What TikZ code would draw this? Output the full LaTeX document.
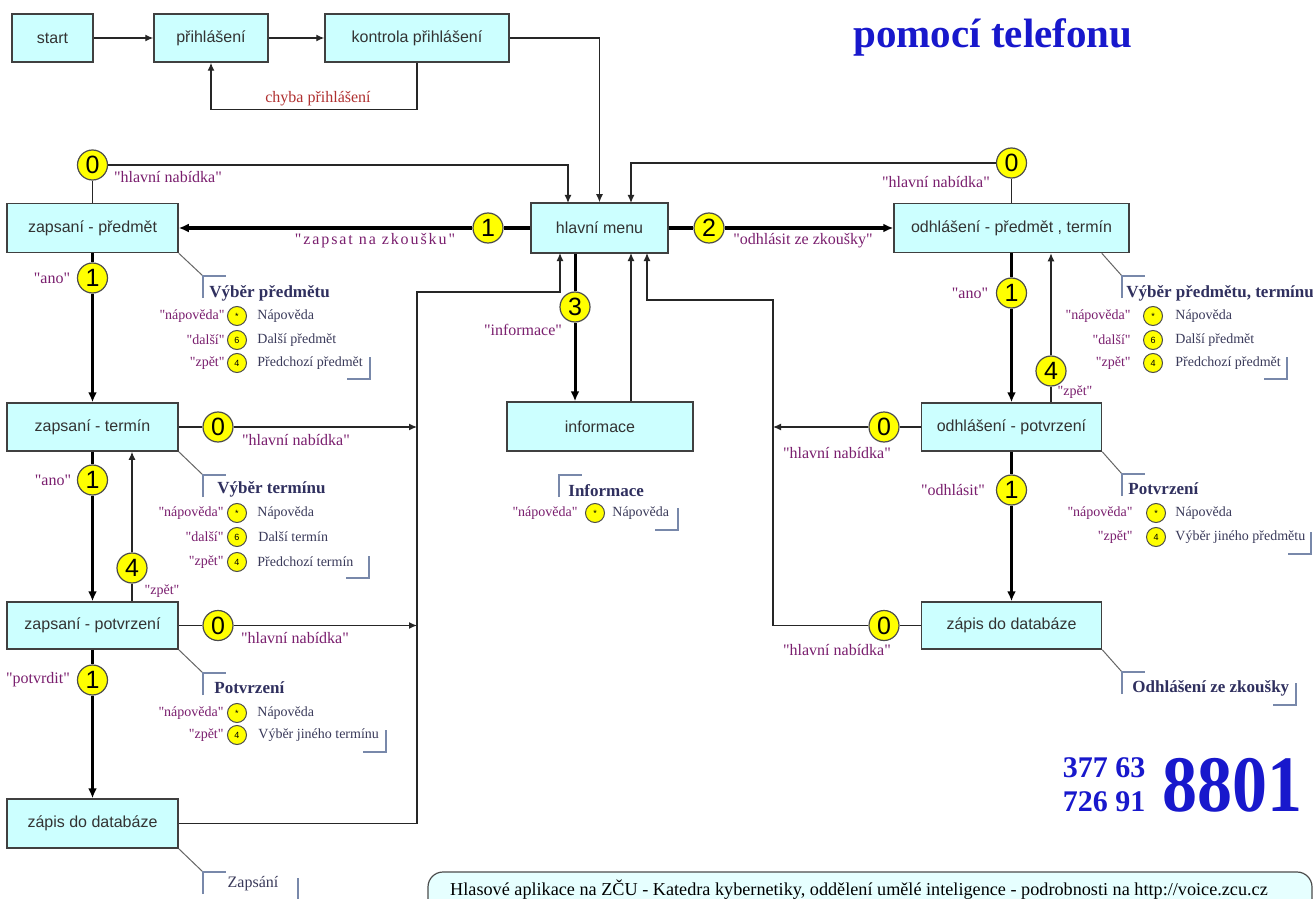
\documentclass[tikz,border=0pt]{standalone}
\usepackage{fontspec}
\setmainfont{Liberation Serif}
\setsansfont{Liberation Sans}
\newfontfamily\qfont{Liberation Serif}
\usetikzlibrary{arrows.meta,calc}
\definecolor{boxfill}{HTML}{CCFFFF}
\definecolor{ylw}{HTML}{FFFF00}
\definecolor{qpurple}{HTML}{7A1E6E}
\definecolor{navy}{HTML}{30305F}
\definecolor{rowc}{HTML}{3A3A5A}
\definecolor{errred}{HTML}{B03030}
\definecolor{ttlblue}{HTML}{1818CC}
\definecolor{brkc}{HTML}{7888AA}
\definecolor{footfill}{HTML}{E6FFFF}
\newcommand{\fsz}[1]{\fontsize{#1pt}{#1pt}\selectfont}
\newcommand{\crow}[8]{%
  \node[rowq,anchor=east] (#1q) at (#2,#5) {"#6"};
  \node[smallc] (#1c) at (#3,#5) {#7};
  \node[rowt,anchor=west] (#1t) at (#4,#5) {#8};}
\tikzset{
  box/.style={draw=black!75, line width=0.75pt, fill=boxfill, inner sep=0pt, font=\sffamily\fsz{8}, text=black!80},
  bx/.style 2 args={box, minimum width=#1*0.5pt, minimum height=#2*0.5pt},
  bigc/.style={circle, draw=black!70, line width=0.6pt, fill=ylw, minimum size=15pt, inner sep=0pt, font=\sffamily\fsz{12.5}},
  smallc/.style={circle, draw=black!70, line width=0.5pt, fill=ylw, minimum size=9.5pt, inner sep=0pt, font=\sffamily\fsz{4.5}},
  ql/.style={font=\qfont\fsz{8}, text=qpurple, inner sep=0pt},
  rowq/.style={font=\qfont\fsz{7}, text=qpurple, inner sep=0pt},
  rowt/.style={font=\fsz{7}, text=rowc, inner sep=0pt},
  ctitle/.style={font=\bfseries\fsz{8.5}, text=navy, inner sep=0pt, anchor=west},
  con/.style={draw=black!85, line width=0.65pt},
  thk/.style={draw=black, line width=1.5pt},
  arr/.style={-{Latex[length=4pt,width=3.5pt]}},
  tarr/.style={-{Latex[length=5pt,width=4.5pt]}},
  brk/.style={draw=brkc, line width=0.6pt},
  diag/.style={draw=black!60, line width=0.5pt},
}
\begin{document}
\begin{tikzpicture}[x=0.5pt,y=-0.5pt]
\fill[white] (0,0) rectangle (1313,899);
\useasboundingbox (0,0) rectangle (1313,899);
\clip (0,0) rectangle (1313,899);

% boxes
\node[bx={81}{48}] (start) at (52.5,38) {start};
\node[bx={114}{48}] (login) at (211,38) {přihlášení};
\node[bx={184}{48}] (check) at (417,38) {kontrola přihlášení};
\node[bx={137}{50}] (menu) at (599.5,228) {hlavní menu};
\node[bx={171}{49}] (zpred) at (92.5,228) {zapsaní - předmět};
\node[bx={171}{48}] (zterm) at (92.5,427) {zapsaní - termín};
\node[bx={171}{47}] (zpotv) at (92.5,625.5) {zapsaní - potvrzení};
\node[bx={171}{49}] (zdb) at (92.5,823.5) {zápis do databáze};
\node[bx={186}{49}] (info) at (600,426.5) {informace};
\node[bx={235}{49}] (opred) at (1011.5,228) {odhlášení - předmět , termín};
\node[bx={180}{48}] (opotv) at (1011.5,427) {odhlášení - potvrzení};
\node[bx={180}{47}] (odb) at (1011.5,625.5) {zápis do databáze};

% circles
\node[bigc] (c0a) at (92.5,165) {0};
\node[bigc] (c0b) at (1011.5,163) {0};
\node[bigc] (c1z) at (488,228) {1};
\node[bigc] (c2) at (709,228) {2};
\node[bigc] (c1a) at (92.5,278) {1};
\node[bigc] (c3) at (575,307) {3};
\node[bigc] (c1o) at (1011.5,293) {1};
\node[bigc] (c4o) at (1051,371) {4};
\node[bigc] (c0t) at (218,427) {0};
\node[bigc] (c0p) at (884,427) {0};
\node[bigc] (c1b) at (92.5,480) {1};
\node[bigc] (c1d) at (1011.5,490) {1};
\node[bigc] (c4z) at (132,568) {4};
\node[bigc] (c0u) at (218,625.5) {0};
\node[bigc] (c0z) at (884,625.5) {0};
\node[bigc] (c1c) at (92.5,680) {1};

% coordinates
\coordinate (mInL) at (568,203);
\coordinate (mInR) at (631,203);
\coordinate (mOutL) at (560,253);
\coordinate (mOutI) at (631,253);
\coordinate (mOutR) at (647,253);
\coordinate (vL) at (417,292);
\coordinate (vR) at (773,300);

% connectors
\draw[con,arr] (start) -- (login);
\draw[con,arr] (login) -- (check);
\draw[con,arr] (check.south) -- ++(0,47) -| (login.south);
\draw[con,arr] (check.east) -| (menu.north);
\draw[con] (c0a) -- (zpred);
\draw[con,arr] (c0a.east) -| (mInL);
\draw[con] (c0b) -- (opred);
\draw[con,arr] (c0b.west) -| (mInR);
\draw[thk] (menu.west) -- (c1z.east);
\draw[thk,tarr] (c1z.west) -- (zpred.east);
\draw[thk] (menu.east) -- (c2.west);
\draw[thk,tarr] (c2.east) -- (opred.west);
\draw[thk] (zpred) -- (c1a);
\draw[thk,tarr] (c1a) -- (zterm);
\draw[thk] (zterm) -- (c1b);
\draw[thk,tarr] (c1b) -- (zpotv);
\draw[thk] (zpotv) -- (c1c);
\draw[thk,tarr] (c1c) -- (zdb);
\draw[con,arr] (c4z) -- (c4z |- zterm.south);
\draw[con] (c4z) -- (c4z |- zpotv.north);
\draw[con] (zterm) -- (c0t);
\draw[con,arr] (c0t) -- (c0t -| vL);
\draw[con] (zpotv) -- (c0u);
\draw[con,arr] (c0u) -- (c0u -| vL);
\draw[con,arr] (zdb.east) -| (vL) -| (mOutL);
\draw[thk] (menu.south -| c3) -- (c3);
\draw[thk,tarr] (c3) -- (c3 |- info.north);
\draw[con,arr] (mOutI |- info.north) -- (mOutI);
\draw[thk] (opred) -- (c1o);
\draw[thk,tarr] (c1o) -- (opotv);
\draw[con,arr] (c4o) -- (c4o |- opred.south);
\draw[con] (c4o) -- (c4o |- opotv.north);
\draw[con] (opotv) -- (c0p);
\draw[con,arr] (c0p) -- (c0p -| vR);
\draw[thk] (opotv) -- (c1d);
\draw[thk,tarr] (c1d) -- (odb);
\draw[con] (odb) -- (c0z);
\draw[con,arr] (c0z.west) -| (vR) -| (mOutR);

% labels
\node[font=\fsz{8}, text=errred, inner sep=0pt] (lchyba) at (318,99) {chyba přihlášení};
\node[ql] (l1) at (168,177) {"hlavní nabídka"};
\node[ql] (l2) at (375,241) {\addfontfeature{LetterSpace=12}"zapsat na zkoušku"};
\node[ql] (l3) at (803,241) {"odhlásit ze zkoušky"};
\node[ql] (l4) at (936,182) {"hlavní nabídka"};
\node[ql] (l5) at (52,278) {"ano"};
\node[ql] (l6) at (523,330) {"informace"};
\node[ql] (l7) at (970,293) {"ano"};
\node[ql] (l8) at (296,440) {"hlavní nabídka"};
\node[rowq] (l9) at (1075,392) {"zpět"};
\node[ql] (l10) at (837,453) {"hlavní nabídka"};
\node[ql] (l11) at (53,480) {"ano"};
\node[ql] (l12) at (953,490) {"odhlásit"};
\node[rowq] (l13) at (162,591) {"zpět"};
\node[ql] (l14) at (295,638) {"hlavní nabídka"};
\node[ql] (l15) at (837,650) {"hlavní nabídka"};
\node[ql] (l16) at (38,680) {"potvrdit"};

% callout L1
\coordinate (b1) at (203,276);
\draw[diag] (zpred.south east) -- (b1);
\draw[brk] (b1) ++(0,22) -- (b1) -- ++(23,0);
\node[ctitle] (t1) at (209,293) {Výběr předmětu};
\crow{r1a}{225}{237}{257}{316}{nápověda}{*}{Nápověda}
\crow{r1b}{225}{237}{257}{340}{další}{6}{Další předmět}
\crow{r1c}{225}{237}{257}{363}{zpět}{4}{Předchozí předmět}
\coordinate (e1) at (370,379);
\draw[brk] (e1) ++(0,-22) -- (e1) -- ++(-23,0);

% callout L2
\coordinate (b2) at (203,475);
\draw[diag] (zterm.south east) -- (b2);
\draw[brk] (b2) ++(0,22) -- (b2) -- ++(23,0);
\node[ctitle] (t2) at (217,489) {Výběr termínu};
\crow{r2a}{224}{237}{257}{513}{nápověda}{*}{Nápověda}
\crow{r2b}{224}{237}{258}{537}{další}{6}{Další termín}
\crow{r2c}{224}{237}{257}{562}{zpět}{4}{Předchozí termín}
\coordinate (e2) at (369,578);
\draw[brk] (e2) ++(0,-22) -- (e2) -- ++(-23,0);

% callout L3
\coordinate (b3) at (203,673);
\draw[diag] (zpotv.south east) -- (b3);
\draw[brk] (b3) ++(0,22) -- (b3) -- ++(23,0);
\node[ctitle] (t3) at (214,688) {Potvrzení};
\crow{r3a}{224}{237}{257}{713}{nápověda}{*}{Nápověda}
\crow{r3b}{224}{237}{258}{735}{zpět}{4}{Výběr jiného termínu}
\coordinate (e3) at (386,752);
\draw[brk] (e3) ++(0,-22) -- (e3) -- ++(-23,0);

% callout L4
\coordinate (b4) at (203,872);
\draw[diag] (zdb.south east) -- (b4);
\draw[brk] (b4) ++(0,22) -- (b4) -- ++(23,0);
\node[font=\fsz{8}, text=rowc, inner sep=0pt] (t4) at (253,884) {Zapsání};
\coordinate (e4) at (298,902);
\draw[brk] (e4) ++(0,-24) -- (e4) -- ++(-23,0);

% callout info
\coordinate (b5) at (559,475);
\draw[brk] (b5) ++(0,22) -- (b5) -- ++(23,0);
\node[ctitle] (t5) at (568,491) {Informace};
\crow{r5a}{578}{595}{612}{513}{nápověda}{*}{Nápověda}
\coordinate (e5) at (678,530);
\draw[brk] (e5) ++(0,-22) -- (e5) -- ++(-23,0);

% callout R1
\coordinate (b6) at (1122,276);
\draw[diag] (opred.south east) ++(-28,0) -- (b6);
\draw[brk] (b6) ++(0,22) -- (b6) -- ++(23,0);
\node[ctitle] (t6) at (1126,293) {Výběr předmětu, termínu};
\crow{r6a}{1131}{1153}{1175}{316}{nápověda}{*}{Nápověda}
\crow{r6b}{1131}{1153}{1175}{340}{další}{6}{Další předmět}
\crow{r6c}{1131}{1153}{1175}{363}{zpět}{4}{Předchozí předmět}
\coordinate (e6) at (1287,379);
\draw[brk] (e6) ++(0,-22) -- (e6) -- ++(-23,0);

% callout R2
\coordinate (b7) at (1122,474);
\draw[diag] (opotv.south east) -- (b7);
\draw[brk] (b7) ++(0,22) -- (b7) -- ++(23,0);
\node[ctitle] (t7) at (1128,489) {Potvrzení};
\crow{r7a}{1133}{1156}{1175}{513}{nápověda}{*}{Nápověda}
\crow{r7b}{1133}{1156}{1175}{537}{zpět}{4}{Výběr jiného předmětu}
\coordinate (e7) at (1311,554);
\draw[brk] (e7) ++(0,-22) -- (e7) -- ++(-23,0);

% callout R3
\coordinate (b8) at (1122,672);
\draw[diag] (odb.south east) -- (b8);
\draw[brk] (b8) ++(0,22) -- (b8) -- ++(23,0);
\node[ctitle] (t8) at (1132,688) {Odhlášení ze zkoušky};
\coordinate (e8) at (1296,705);
\draw[brk] (e8) ++(0,-22) -- (e8) -- ++(-23,0);

% title
\node[font=\bfseries\fsz{20.5}, text=ttlblue, inner sep=0pt, anchor=base west] (title) at (853,48) {pomocí telefonu};

% phone number
\node[font=\bfseries\fsz{15}, text=ttlblue, inner sep=0pt] (ph1) at (1104,768) {377 63};
\node[font=\bfseries\fsz{15}, text=ttlblue, inner sep=0pt] (ph2) at (1104,802) {726 91};
\node[font=\bfseries\fsz{40}, text=ttlblue, inner sep=0pt] (ph3) at (1232,785) {\scalebox{0.875}[1]{8801}};

% footer
\draw[draw=black!70, fill=footfill, line width=0.6pt, rounded corners=7.5pt] (428,940) -- (428,872) -- (1312,872) -- (1312,940);
\node[font=\fsz{9.1}, inner sep=0pt, anchor=base] (foot) at (859,895) {Hlasové aplikace na ZČU - Katedra kybernetiky, oddělení umělé inteligence - podrobnosti na http://voice.zcu.cz};
\end{tikzpicture}
\end{document}
